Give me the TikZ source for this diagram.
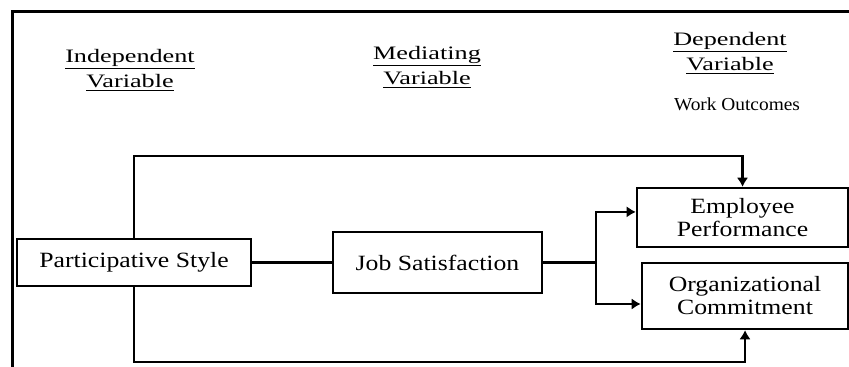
\documentclass[tikz,border=0pt]{standalone}
\usepackage{fontspec}
\setmainfont{Liberation Serif}
\newfontfamily\boxfont[FakeStretch=1.18]{Liberation Serif}
\newfontfamily\headfont[FakeStretch=1.38]{Liberation Serif}
\newfontfamily\notefont[FakeStretch=1.06]{Liberation Serif}
\usepackage{tikz}
\usetikzlibrary{shapes,arrows,arrows.meta,positioning,calc}

\tikzset{
  varbox/.style={draw, line width=1.6pt, rectangle, align=center, inner sep=0pt,
    font=\boxfont\fontsize{15.5}{16.3}\selectfont},
  heading/.style={align=center, inner sep=0pt,
    font=\headfont\fontsize{13.5}{18.4}\selectfont},
  link/.style={line width=1.6pt},
  tip/.style={-{Latex[length=6.5pt,width=8pt]}}
}

\begin{document}
\begin{tikzpicture}[x=0.025cm, y=-0.025cm]
    \useasboundingbox (0,0) rectangle (849,367);

    % Outer frame
    \draw[line width=2.2pt] (12.5,372) -- (12.5,11.5) -- (855,11.5);

    % Column headings
    \node[heading] (indep) at (130,70) {\underline{Independent}\\\underline{Variable}};
    \node[heading] (medi) at (427,67) {\underline{Mediating}\\\underline{Variable}};
    \node[heading] (dep) at (730,53) {\underline{Dependent}\\\underline{Variable}};
    \node[font=\notefont\fontsize{13}{15}\selectfont, inner sep=0pt] (outc) at (737,104) {Work Outcomes};

    % Variable boxes
    \node[varbox, minimum width=5.85cm, minimum height=1.175cm] (part) at (134,262.5) {Participative Style};
    \node[varbox, minimum width=5.225cm, minimum height=1.525cm] (job) at (437.5,262.5) {Job Satisfaction};
    \node[varbox, minimum width=5.275cm, minimum height=1.475cm] (emp) at (742.5,217.5) {Employee\\Performance};
    \node[varbox, minimum width=5.15cm, minimum height=1.65cm] (org) at (745,296) {Organizational\\Commitment};

    % Direct paths
    \coordinate (toprail) at (134,156);
    \coordinate (botrail) at (134,362);
    \draw[link, tip] (part.north) -- (toprail) -| (emp.north);
    \draw[link, tip] (part.south) -- (botrail) -| (org.south);

    % Mediated paths
    \coordinate (split) at (596,262.5);
    \draw[link] (part.east) -- (job.west);
    \draw[link] (job.east) -- (split);
    \draw[link, tip] (split) |- ([yshift=0.14cm]emp.west);
    \draw[link, tip] (split) |- ([yshift=-0.2cm]org.west);
\end{tikzpicture}
\end{document}
